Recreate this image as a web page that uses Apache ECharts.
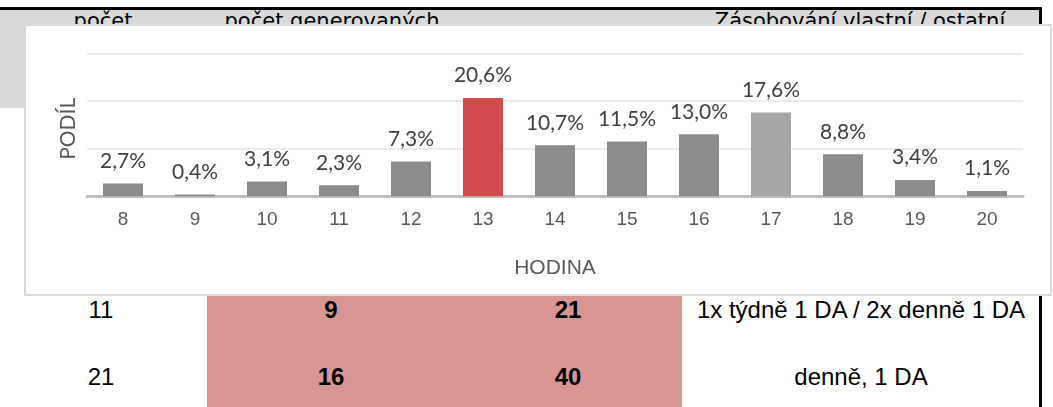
<!DOCTYPE html>
<html>
<head>
<meta charset="utf-8">
<script src="https://cdn.jsdelivr.net/npm/echarts@6/dist/echarts.min.js"></script>
<style>
  html, body { margin: 0; padding: 0; background: #ffffff; }
  body { width: 1053px; height: 407px; overflow: hidden; position: relative; }
  .abs { position: absolute; }
  .hdrtxt { font-family: "DejaVu Sans", sans-serif; font-size: 21px; line-height: 21px; color: #000; white-space: nowrap; text-align: center; }
  .celltxt { font-family: "Liberation Sans", Arial, sans-serif; font-size: 24px; line-height: 24px; color: #000; white-space: nowrap; text-align: center; }
  #box { left: 24px; top: 24px; width: 1028px; height: 272px; box-sizing: border-box; border: 2px solid #d9d9d9; background: #fff; }
  #chart { width: 1024px; height: 268px; }
</style>
</head>
<body>
<div class="abs" style="left:0;top:10px;width:1039px;height:98px;background:#d9d9d9"></div>
<div class="abs" style="left:207px;top:296px;width:475px;height:111px;background:#d99594"></div>
<div class="abs" style="left:0;top:7px;width:1042px;height:3px;background:#000"></div>
<div class="abs" style="left:1039px;top:7px;width:3px;height:400px;background:#000"></div>
<div id="table"></div>
<div id="box" class="abs"><div id="chart"></div></div>
<script>
// ---- data ----
const hours = ['8', '9', '10', '11', '12', '13', '14', '15', '16', '17', '18', '19', '20'];
const shares = [2.7, 0.4, 3.1, 2.3, 7.3, 20.6, 10.7, 11.5, 13.0, 17.6, 8.8, 3.4, 1.1];
const peakHour = '13';
const secondPeakHour = '17';
const xAxisName = 'HODINA';
const yAxisName = 'PODÍL';
const headerTexts = ['počet', 'počet generovaných', 'Zásobování vlastní / ostatní'];
const rowOne = ['11', '9', '21', '1x týdně 1 DA / 2x denně 1 DA'];
const rowTwo = ['21', '16', '40', 'denně, 1 DA'];

// ---- background table (layout) ----
const tableEl = document.getElementById('table');
const headerCenters = [103, 332, 860];
headerTexts.forEach(function (t, i) {
  const d = document.createElement('div');
  d.className = 'abs hdrtxt';
  d.style.left = (headerCenters[i] - 200) + 'px';
  d.style.width = '400px';
  d.style.top = '11px';
  d.textContent = t;
  tableEl.appendChild(d);
});
const colCenters = [101, 331, 568, 861];
const boldCols = [false, true, true, false];
[[rowOne, 298], [rowTwo, 365]].forEach(function (r) {
  r[0].forEach(function (t, i) {
    const d = document.createElement('div');
    d.className = 'abs celltxt';
    d.style.left = (colCenters[i] - 200) + 'px';
    d.style.width = '400px';
    d.style.top = r[1] + 'px';
    if (boldCols[i]) d.style.fontWeight = 'bold';
    d.textContent = t;
    tableEl.appendChild(d);
  });
});

// ---- chart ----
const chart = echarts.init(document.getElementById('chart'), null, { renderer: 'canvas' });
function barColor(h) {
  if (h === peakHour) return '#d54b4d';
  if (h === secondPeakHour) return '#a6a6a6';
  return '#8c8c8c';
}
chart.setOption({
  animation: false,
  backgroundColor: '#ffffff',
  grid: { left: 61, width: 936, top: 27.3, bottom: 97.7, containLabel: false },
  xAxis: {
    type: 'category',
    data: hours,
    name: xAxisName,
    nameLocation: 'middle',
    nameGap: 61,
    nameTextStyle: { fontFamily: 'Liberation Sans, Arial, sans-serif', fontSize: 21, color: '#595959' },
    axisLine: { lineStyle: { color: '#bfbfbf', width: 3 } },
    axisTick: { show: false },
    axisLabel: { margin: 14, fontFamily: 'Liberation Sans, Arial, sans-serif', fontSize: 19, color: '#595959' }
  },
  yAxis: {
    type: 'value',
    min: 0,
    max: 30,
    interval: 10,
    name: yAxisName,
    nameLocation: 'middle',
    nameGap: 8,
    nameTextStyle: { fontFamily: 'Lato, sans-serif', fontSize: 21, color: '#595959', padding: [0, 8, 0, 0] },
    axisLine: { show: false },
    axisTick: { show: false },
    axisLabel: { show: false },
    splitLine: { lineStyle: { color: '#ebebeb', width: 2 } }
  },
  series: [{
    type: 'bar',
    barWidth: 40,
    data: shares.map(function (v, i) {
      return { value: v, itemStyle: { color: barColor(hours[i]) } };
    }),
    label: {
      show: true,
      position: 'top',
      distance: 12,
      fontFamily: 'Lato, sans-serif',
      fontSize: 21,
      color: '#404040',
      formatter: function (p) { return p.value.toFixed(1).replace('.', ',') + '%'; }
    }
  }]
});
</script>
</body>
</html>
